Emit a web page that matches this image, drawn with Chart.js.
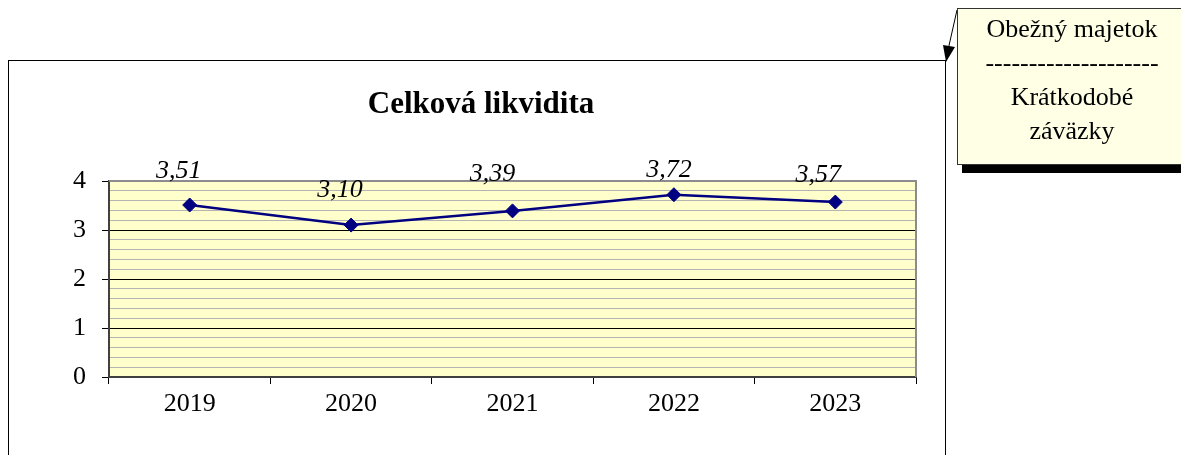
<!DOCTYPE html>
<html>
<head>
<meta charset="utf-8">
<script src="https://cdn.jsdelivr.net/npm/chart.js@4"></script>
<style>
  html, body { margin:0; padding:0; background:#fff; overflow:hidden; }
  #wrap { position:relative; width:1181px; height:455px; overflow:hidden; }
  #frame { position:absolute; left:8px; top:60px; width:938px; height:420px; border:1px solid #000; box-sizing:border-box; }
  #c { position:absolute; left:0; top:0; }
  #callout { position:absolute; left:957px; top:8px; width:245px; height:157px; box-sizing:border-box;
    border:1px solid #333; background:#ffffe6; box-shadow:5px 8px 0 #000;
    font-family:'Liberation Serif','Times New Roman',serif; font-size:26px; line-height:34px; text-align:center; color:#000; padding-top:3px; padding-right:15px; }
  #arrow { position:absolute; left:0; top:0; }
</style>
</head>
<body>
<div id="wrap">
  <div id="frame"></div>
  <canvas id="c" width="1181" height="455"></canvas>
  <svg id="arrow" width="1181" height="455">
    <line x1="957" y1="10" x2="948" y2="50" stroke="#000" stroke-width="1"/>
    <polygon points="946,62 955,47 943,45" fill="#000"/>
  </svg>
  <div id="callout">
    <div>Obežný majetok</div>
    <div>--------------------</div>
    <div>Krátkodobé</div>
    <div>záväzky</div>
  </div>
</div>
<script>
const categories = ['2019', '2020', '2021', '2022', '2023'];
const values = [3.51, 3.10, 3.39, 3.72, 3.57];
const valueLabels = ['3,51', '3,10', '3,39', '3,72', '3,57'];
const titleText = 'Celková likvidita';
const yMin = 0, yMax = 4, yStep = 0.2;

// label placement offsets (pixels relative to the point), style only
const labelDX = [-11, -11, -20, -5, -17];
const labelDY = [-27, -28, -30, -18, -20];

const SERIF = "'Liberation Serif','Times New Roman',serif";
const isMajor = v => Math.abs(v - Math.round(v)) < 1e-6;

const plotDecor = {
  id: 'plotDecor',
  beforeDraw(chart) {
    const {ctx, chartArea: a} = chart;
    ctx.save();
    ctx.fillStyle = '#ffffcc';
    ctx.fillRect(a.left, a.top, a.right - a.left, a.bottom - a.top);
    ctx.restore();
  },
  beforeDatasetsDraw(chart) {
    const {ctx, chartArea: a} = chart;
    ctx.save();
    ctx.strokeStyle = '#8c8c8c';
    ctx.lineWidth = 2;
    ctx.beginPath();
    ctx.moveTo(a.left, a.top);
    ctx.lineTo(a.right, a.top);
    ctx.lineTo(a.right, a.bottom);
    ctx.stroke();
    ctx.restore();
  },
  afterDraw(chart) {
    const {ctx} = chart;
    ctx.save();
    ctx.fillStyle = '#000';
    ctx.font = 'bold 31px ' + SERIF;
    ctx.textAlign = 'center';
    ctx.textBaseline = 'alphabetic';
    ctx.fillText(titleText, 481, 113);
    ctx.font = 'italic 26px ' + SERIF;
    const meta = chart.getDatasetMeta(0);
    meta.data.forEach((pt, i) => {
      ctx.fillText(valueLabels[i], pt.x + labelDX[i], pt.y + labelDY[i]);
    });
    ctx.restore();
  }
};

new Chart(document.getElementById('c'), {
  type: 'line',
  data: {
    labels: categories,
    datasets: [{
      data: values,
      borderColor: '#000080',
      borderWidth: 2.5,
      backgroundColor: '#000080',
      pointBackgroundColor: '#000080',
      pointBorderColor: '#000080',
      pointStyle: 'rectRot',
      pointRadius: 7,
      pointBorderWidth: 1,
      tension: 0,
      fill: false
    }]
  },
  options: {
    responsive: false,
    animation: false,
    events: [],
    layout: { padding: { left: 0, top: 181, right: 265, bottom: 0 } },
    plugins: { legend: { display: false }, tooltip: { enabled: false }, title: { display: false } },
    scales: {
      x: {
        offset: true,
        afterFit(s) { s.height = 78; },
        grid: { drawOnChartArea: false, offset: true, tickLength: 7, color: '#000', lineWidth: 1 },
        border: { color: '#404040', width: 2 },
        ticks: { color: '#000', font: { family: SERIF, size: 26 }, padding: 5, maxRotation: 0 }
      },
      y: {
        min: yMin, max: yMax,
        afterFit(s) { s.width = 109; },
        grid: {
          color: c => isMajor(c.tick.value) ? (c.tick.value === yMax ? '#8c8c8c' : '#000') : '#b4b4b4',
          lineWidth: 1,
          tickLength: 7,
          tickColor: c => isMajor(c.tick.value) ? '#000' : 'rgba(0,0,0,0)'
        },
        border: { color: '#404040', width: 2 },
        ticks: {
          stepSize: yStep,
          autoSkip: false,
          color: '#000',
          font: { family: SERIF, size: 26 },
          padding: 16,
          callback: v => isMajor(v) ? String(Math.round(v)) : ''
        }
      }
    }
  },
  plugins: [plotDecor]
});
</script>
</body>
</html>
